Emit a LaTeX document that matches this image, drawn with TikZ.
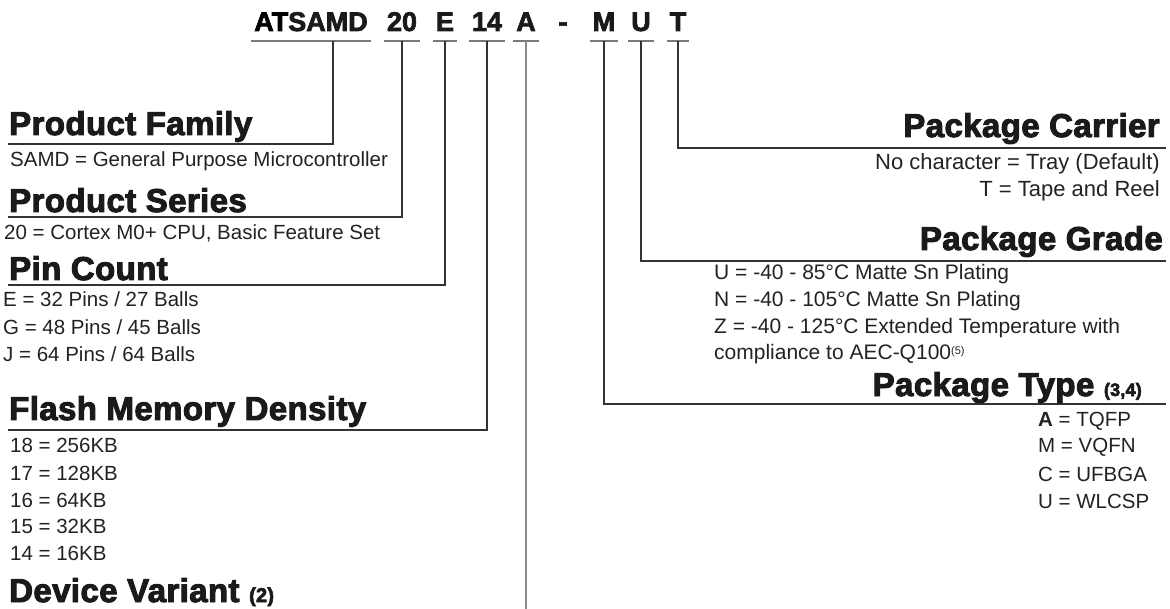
\documentclass[tikz,border=0pt]{standalone}
\usepackage{fontspec}
\setmainfont{Liberation Sans}
\newfontfamily\heavy[FakeBold=3,LetterSpace=1.2]{Liberation Sans Bold}
\newfontfamily\tithvy[FakeBold=2.5]{Liberation Sans Bold}
\definecolor{linec}{HTML}{333333}
\definecolor{ulc}{HTML}{7A7A7A}
\definecolor{alinec}{HTML}{8A8A8A}
\definecolor{headc}{HTML}{1A1A1A}
\definecolor{bodyc}{HTML}{222222}
\tikzset{
  head/.style={font=\heavy\fontsize{33}{33}\selectfont, text=headc, inner sep=0pt},
  body/.style={font=\fontsize{20.5}{20.5}\selectfont, text=bodyc, inner sep=0pt},
  tit/.style={font=\tithvy\fontsize{27}{27}\selectfont, text=headc, inner sep=0pt, anchor=base},
  conn/.style={draw=linec, line width=2pt},
  uline/.style={draw=ulc, line width=2.2pt},
}
\begin{document}
\begin{tikzpicture}[x=1pt,y=-1pt]
\useasboundingbox (0,0) rectangle (1170,609);
% title
\node[tit] (tATSAMD) at (311,31) {\textcolor{black}{AT}SAMD};
\node[tit] (t20) at (402,31) {20};
\node[tit] (tE) at (445,31) {E};
\node[tit] (t14) at (487,31) {14};
\node[tit] (tA) at (526,31) {A};
\node[tit] (tdash) at (563,31) {-};
\node[tit] (tM) at (604,31) {M};
\node[tit] (tU) at (641,31) {U};
\node[tit] (tT) at (678,31) {T};
\foreach \n in {tATSAMD,t20,tE,t14,tA,tM,tU,tT}{
  \draw[uline] ([xshift=-3pt,yshift=-10pt]\n.base west) -- ([xshift=3pt,yshift=-10pt]\n.base east);
}
% connector anchors
\coordinate (sATSAMD) at (333,41);
\coordinate (cFam) at (8,144);
\coordinate (cSer) at (8,217);
\coordinate (cPin) at (8,285);
\coordinate (cFla) at (8,430);
\coordinate (cVar) at (526,609);
\coordinate (cCar) at (1166,148);
\coordinate (cGra) at (1166,261);
\coordinate (cTyp) at (1166,404);
% connectors
\draw[conn] (sATSAMD) |- (cFam);
\draw[conn] ([yshift=-10pt]t20.base) |- (cSer);
\draw[conn] ([yshift=-10pt]tE.base) |- (cPin);
\draw[conn] ([yshift=-10pt]t14.base) |- (cFla);
\draw[draw=alinec, line width=2pt] ([yshift=-10pt]tA.base) -- (cVar);
\draw[conn] ([yshift=-10pt]tM.base) |- (cTyp);
\draw[conn] ([yshift=-10pt]tU.base) |- (cGra);
\draw[conn] ([yshift=-10pt]tT.base) |- (cCar);
% left side
\node[head, anchor=base west] (hFam) at (9,135) {Product Family};
\node[body, anchor=base west] (bFam) at (10,167) {SAMD = General Purpose Microcontroller};
\node[head, anchor=base west] (hSer) at (9,212) {Product Series};
\node[body, anchor=base west] (bSer) at (4,240) {20 = Cortex M0+ CPU, Basic Feature Set};
\node[head, anchor=base west] (hPin) at (9,280) {Pin Count};
\node[body, anchor=base west] (bPin1) at (3,307) {E = 32 Pins / 27 Balls};
\node[body, anchor=base west] (bPin2) at (3,335) {G = 48 Pins / 45 Balls};
\node[body, anchor=base west] (bPin3) at (3,362) {J = 64 Pins / 64 Balls};
\node[head, anchor=base west] (hFla) at (9,420) {Flash Memory Density};
\node[body, anchor=base west] (bFla1) at (10,453) {18 = 256KB};
\node[body, anchor=base west] (bFla2) at (10,480) {17 = 128KB};
\node[body, anchor=base west] (bFla3) at (10,507) {16 = 64KB};
\node[body, anchor=base west] (bFla4) at (10,533) {15 = 32KB};
\node[body, anchor=base west] (bFla5) at (10,560) {14 = 16KB};
\node[head, anchor=base west] (hVar) at (9,602) {Device Variant {\fontsize{20}{20}\selectfont (2)}};
% right side
\node[head, anchor=base east] (hCar) at (1160,137) {Package Carrier};
\node[body, font=\fontsize{22}{22}\selectfont, anchor=base east] (bCar1) at (1160,170) {No character = Tray (Default)};
\node[body, font=\fontsize{22}{22}\selectfont, anchor=base east] (bCar2) at (1160,197) {T = Tape and Reel};
\node[head, anchor=base east] (hGra) at (1163,250) {Package Grade};
\node[body, font=\fontsize{21}{21}\selectfont, anchor=base west] (bGra1) at (714,280) {U = -40 - 85°C Matte Sn Plating};
\node[body, font=\fontsize{21}{21}\selectfont, anchor=base west] (bGra2) at (714,307) {N = -40 - 105°C Matte Sn Plating};
\node[body, font=\fontsize{21}{21}\selectfont, anchor=base west] (bGra3) at (714,334) {Z = -40 - 125°C Extended Temperature with};
\node[body, font=\fontsize{21}{21}\selectfont, anchor=base west] (bGra4) at (714,360) {compliance to AEC-Q100\raisebox{0.5ex}{\fontsize{11}{11}\selectfont(5)}};
\node[head, anchor=base east] (hTyp) at (1142,396) {Package Type {\fontsize{18}{18}\selectfont (3,4)}};
\node[body, anchor=base west] (bTyp1) at (1038,426) {\textbf{A} = TQFP};
\node[body, anchor=base west] (bTyp2) at (1038,453) {M = VQFN};
\node[body, anchor=base west] (bTyp3) at (1038,481) {C = UFBGA};
\node[body, anchor=base west] (bTyp4) at (1038,508) {U = WLCSP};
\end{tikzpicture}
\end{document}
